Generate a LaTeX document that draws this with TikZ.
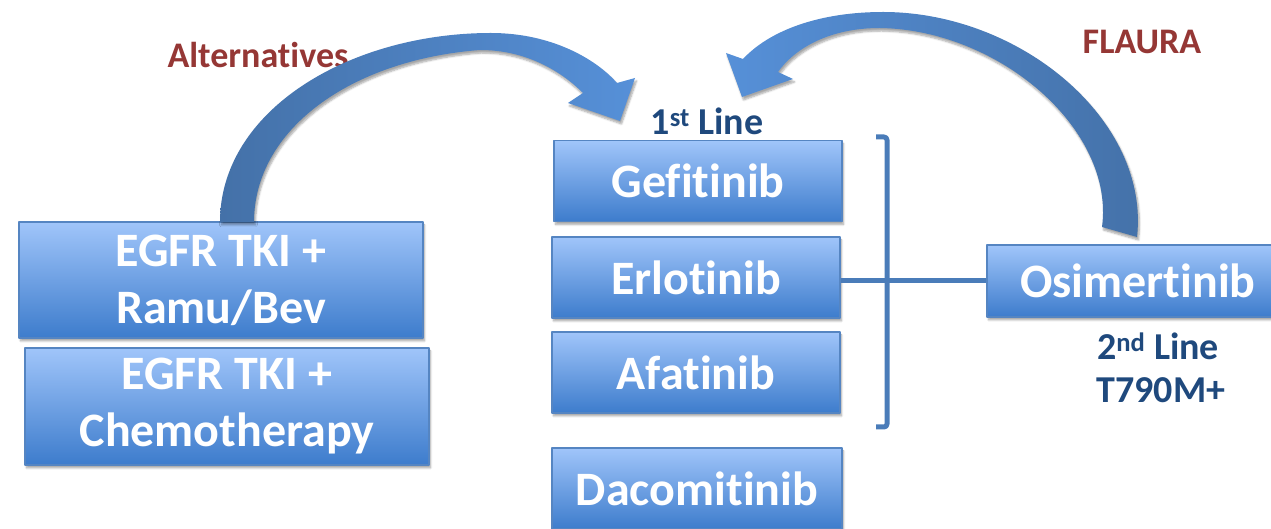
\documentclass[tikz,border=0pt]{standalone}
\usepackage{fontspec}
\setmainfont{Carlito}[Ligatures=NoCommon,RawFeature={-calt}]
\usetikzlibrary{shadows.blur}
\definecolor{boxtop}{HTML}{A0C5FA}
\definecolor{boxbottom}{HTML}{3D7CCC}
\definecolor{boxedge}{HTML}{5585C2}
\definecolor{arrowdark}{HTML}{4471A8}
\definecolor{arrowlight}{HTML}{5690D8}
\definecolor{linkblue}{HTML}{4A7CB9}
\definecolor{trialred}{HTML}{953735}
\definecolor{lineblue}{HTML}{1F497D}
\tikzset{
  softshadow/.style={blur shadow={shadow xshift=1.5bp,shadow yshift=-3bp,shadow blur steps=6,shadow opacity=35}},
  drugbox/.style={draw=boxedge,line width=1.2bp,top color=boxtop,bottom color=boxbottom,
    text=white,inner sep=0pt,align=center,softshadow,
    font=\fontsize{48bp}{57bp}\selectfont\bfseries},
  caption/.style={font=\fontsize{36bp}{40bp}\selectfont\bfseries,text=trialred,inner sep=0pt},
  linelabel/.style={font=\fontsize{38bp}{43bp}\selectfont\bfseries,text=lineblue,inner sep=0pt},
}
\begin{document}
\begin{tikzpicture}[line join=round]
\useasboundingbox (0bp,0bp) rectangle (1271bp,529bp);
%%
\node (node_gefitinib) at (698bp,348bp) [drugbox,minimum width=288bp,minimum height=81bp] {Gefitinib};
  \node (node_erlotinib) at (696bp,251.5bp) [drugbox,minimum width=288bp,minimum height=81bp] {Erlotinib};
  \node (node_afatinib) at (696bp,156.5bp) [drugbox,minimum width=288bp,minimum height=81bp] {Afatinib};
  \node (node_dacomitinib) at (697bp,40.5bp) [drugbox,minimum width=290bp,minimum height=81bp] {Dacomitinib};
  \node (node_ramubev) at (221bp,249bp) [drugbox,minimum width=404bp,minimum height=116bp] {EGFR TKI +\\Ramu/Bev};
  \node (node_chemo) at (227bp,122.5bp) [drugbox,minimum width=404bp,minimum height=117bp] {EGFR TKI +\\Chemotherapy};
  \node (node_osimertinib) at (1138bp,248bp) [drugbox,minimum width=302bp,minimum height=72bp] {Osimertinib};
%
\node (node_alternatives) at (258bp,474bp) [caption] {Alternatives};
  \node (node_flaura) at (1142bp,487bp) [caption] {FLAURA};
  \node (node_firstline) at (707bp,394bp) [linelabel,anchor=base] {1\textsuperscript{st} Line};
  \node (node_secondline) at (1158bp,169bp) [linelabel,anchor=base] {2\textsuperscript{nd} Line};
  \node (node_t790m) at (1161bp,126bp) [linelabel,anchor=base] {T790M+};
%
\draw [linkblue,line width=5bp,rounded corners=3bp] (876bp,392bp) -- (887bp,392bp) -- (887bp,102bp) -- (876bp,102bp);
  \draw [linkblue,line width=5bp] (node_erlotinib.east |- node_osimertinib.west) -- (node_osimertinib.west);
%
\path [left color=arrowdark,right color=arrowlight,softshadow] (220bp,307bp) ..controls (220bp,419bp) and (350bp,496bp) .. (491bp,496bp)
  ..controls (550bp,496bp) and (595bp,471bp) .. (617bp,446bp) -- (635bp,451bp) -- (620bp,408bp) -- (568bp,426bp) -- (583bp,436bp)
  ..controls (560bp,459bp) and (525bp,479bp) .. (480bp,479bp)
  ..controls (350bp,469bp) and (254bp,399bp) .. (254bp,307bp) -- cycle;
  \path [left color=arrowlight,right color=arrowdark,softshadow] (1137bp,292bp) ..controls (1150bp,409bp) and (1020bp,517bp) .. (883bp,517bp)
  ..controls (820bp,517bp) and (770bp,499bp) .. (743bp,470bp) -- (726bp,476bp) -- (742bp,432bp) -- (793bp,450bp) -- (778bp,457bp)
  ..controls (795bp,481bp) and (830bp,501bp) .. (880bp,501bp)
  ..controls (1000bp,499bp) and (1115bp,399bp) .. (1102bp,302bp) -- cycle;
%
\end{tikzpicture}
\end{document}
